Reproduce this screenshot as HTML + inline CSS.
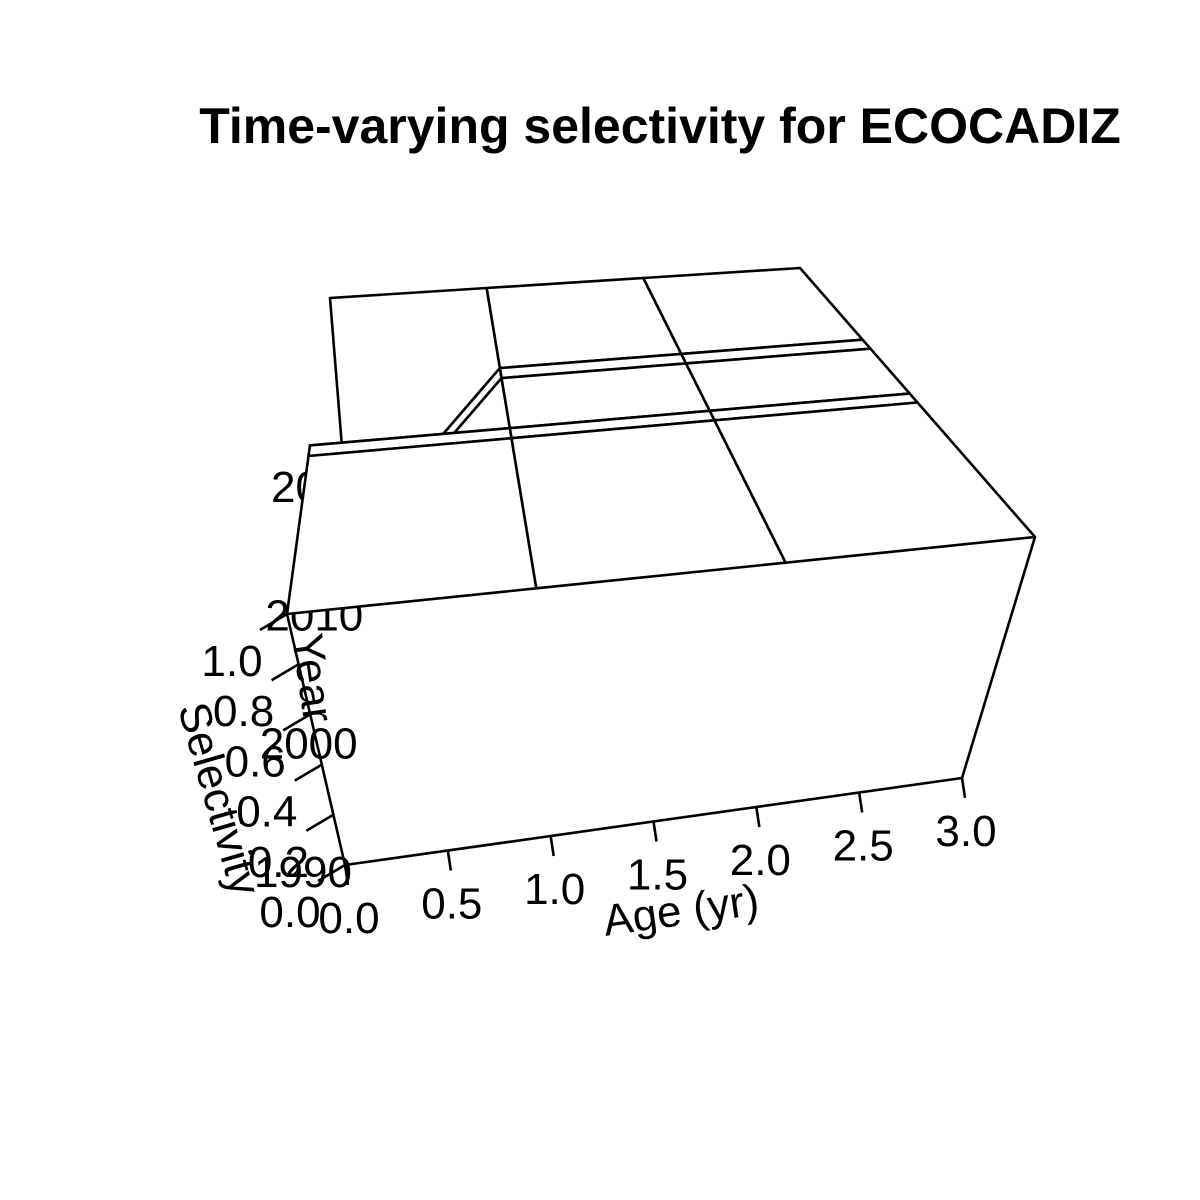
<!DOCTYPE html>
<html><head><meta charset="utf-8"><style>
body{margin:0;background:#fff}
svg{display:block}
text{font-family:"Liberation Sans",sans-serif;fill:#000}
</style></head><body>
<svg id="chart" width="1200" height="1200" viewBox="0 0 1200 1200">
<rect width="1200" height="1200" fill="#fff"/>
<text x="660" y="143" font-size="50" font-weight="bold" text-anchor="middle">Time-varying selectivity for ECOCADIZ</text>
<g id="labels"></g>
<g id="surface"></g>
<g id="axes"></g>
</svg>
<script>
const ages = [0, 1, 2, 3];
const years = [1990, 2005, 2006, 2011, 2012, 2020];
const selectivity = [
  [1, 1, 1, 1],
  [1, 1, 1, 1],
  [1, 1, 1, 1],
  [0.2, 1, 1, 1],
  [0.2, 1, 1, 1],
  [1, 1, 1, 1]
];
const ageTicks = [0, 0.5, 1, 1.5, 2, 2.5, 3];
const ageTickLabels = ["0.0","0.5","1.0","1.5","2.0","2.5","3.0"];
const selTicks = [0, 0.2, 0.4, 0.6, 0.8, 1.0];
const selTickLabels = ["0.0","0.2","0.4","0.6","0.8","1.0"];
const yearTicks = [1990, 2000, 2010, 2020];
const yearTickLabels = ["1990","2000","2010","2020"];

const NS = "http://www.w3.org/2000/svg";
const C = {
  top: {F0:[287,614], F3:[1035,537], B0:[330,298], B3:[800,268]},
  bot: {F0:[345,865], F3:[962,778], B0:[362,480], B3:[775,445]}
};
function lerp(a,b,t){return [a[0]+(b[0]-a[0])*t, a[1]+(b[1]-a[1])*t];}
function plane(p,u,t){const f=lerp(p.F0,p.F3,u), b=lerp(p.B0,p.B3,u); return lerp(f,b,t);}
function xScale(a){return a/3;}
function yScale(y){return (y-1990)/30;}
function proj(a,y,s){const u=xScale(a), t=yScale(y); return lerp(plane(C.bot,u,t), plane(C.top,u,t), s);}
function el(tag, attrs, parent){const e=document.createElementNS(NS,tag); for(const k in attrs) e.setAttribute(k,attrs[k]); parent.appendChild(e); return e;}

const lab = document.getElementById('labels');
yearTicks.forEach((y,i)=>{
  const p = proj(0,y,0);
  const t = el('text',{x:p[0]-42,y:p[1]+22,'font-size':44,'text-anchor':'middle'},lab);
  t.textContent = yearTickLabels[i];
  
  
});
const yt = el('text',{x:0,y:0,'font-size':44,'text-anchor':'middle',transform:'translate(298,680) rotate(82)'},lab);
yt.textContent = "Year";



const surf = document.getElementById('surface');
for (let j = years.length-2; j >= 0; j--) {
  for (let i = 0; i < ages.length-1; i++) {
    const pts = [proj(ages[i],years[j],selectivity[j][i]), proj(ages[i+1],years[j],selectivity[j][i+1]),
                 proj(ages[i+1],years[j+1],selectivity[j+1][i+1]), proj(ages[i],years[j+1],selectivity[j+1][i])];
    const poly = el('polygon',{points:pts.map(p=>p.join(',')).join(' '),fill:'#fff',stroke:'#000','stroke-width':2.6,'stroke-linejoin':'round'},surf);
    
    
  }
}

const ax = document.getElementById('axes');
function line(a,b,name){const l=el('line',{x1:a[0],y1:a[1],x2:b[0],y2:b[1],stroke:'#000','stroke-width':2.6},ax);   return l;}
line(proj(0,1990,0), proj(3,1990,0), 'age-axis-line');
line(proj(3,1990,0), proj(3,1990,1), 'box-edge-right');
line(proj(0,1990,0), proj(0,1990,1), 'selectivity-axis-line');
ageTicks.forEach((a,i)=>{
  const p = proj(a,1990,0);
  line(p,[p[0]+3,p[1]+20],'age-tick');
  const t = el('text',{x:p[0]+4,y:p[1]+68,'font-size':44,'text-anchor':'middle'},ax);
  t.textContent = ageTickLabels[i];
  
  
});
selTicks.forEach((s,i)=>{
  const p = proj(0,1990,s);
  line(p,[p[0]-27,p[1]+16],'selectivity-tick');
  const t = el('text',{x:p[0]-55,y:p[1]+62,'font-size':44,'text-anchor':'middle'},ax);
  t.textContent = selTickLabels[i];
  
  
});
const at = el('text',{x:0,y:0,'font-size':44,'text-anchor':'middle',transform:'translate(683,925) rotate(-8)'},ax);
at.textContent = "Age (yr)";


const st = el('text',{x:0,y:0,'font-size':44,'text-anchor':'middle',transform:'translate(205,803) rotate(74)'},ax);
st.textContent = "Selectivity";


</script>
</body></html>
